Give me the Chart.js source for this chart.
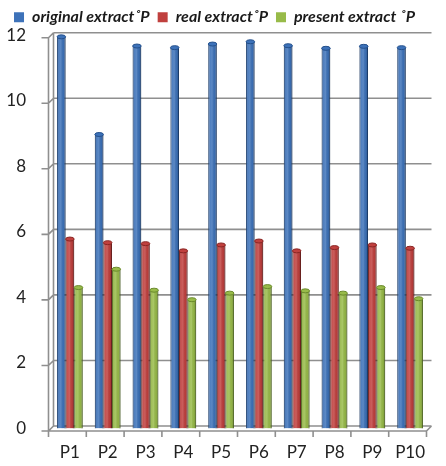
<!DOCTYPE html>
<html>
<head>
<meta charset="utf-8">
<script src="https://cdn.jsdelivr.net/npm/chart.js@4.4.1/dist/chart.umd.min.js"></script>
<style>
  html, body { margin: 0; padding: 0; background: #fff; }
  #wrap { width: 446px; height: 466px; position: relative; }
</style>
</head>
<body>
<div id="wrap"><canvas id="c" width="446" height="466"></canvas></div>
<script>
// Samples P1..P10 and their extract values (°P)
const categories = ['P1', 'P2', 'P3', 'P4', 'P5', 'P6', 'P7', 'P8', 'P9', 'P10'];
const originalExtract = [11.95, 8.97, 11.67, 11.62, 11.73, 11.8, 11.68, 11.6, 11.66, 11.62];
const realExtract = [5.78, 5.67, 5.64, 5.42, 5.6, 5.72, 5.42, 5.52, 5.6, 5.5];
const presentExtract = [4.3, 4.86, 4.22, 3.93, 4.13, 4.33, 4.2, 4.13, 4.3, 3.96];
const yTicks = [0, 2, 4, 6, 8, 10, 12];

const seriesNames = ['original extract˚P', 'real extract˚P', 'present extract ˚P'];
const fills = ['#3d72b9', '#c0403e', '#98bb49'];
const edges = ['#24508c', '#8a2624', '#6a8a2c'];

// Bars sit mid-depth; the front edge and back wall are offset by HALF either way
const HALF = 2.5;

// Back wall, floor and axis lines drawn around the plot in a light 3D look
const wallPlugin = {
  id: 'wall',
  beforeDatasetsDraw(chart) {
    const ctx = chart.ctx;
    const y = chart.scales.y, x = chart.scales.x;
    const a = chart.chartArea;
    const fl = a.left - HALF, bl = a.left + HALF;
    const fr = a.right - HALF, br = a.right + HALF;
    ctx.save();
    ctx.strokeStyle = '#8f8f8f';
    ctx.lineWidth = 1.6;
    ctx.beginPath();
    yTicks.forEach(v => {
      const py = y.getPixelForValue(v);
      // back gridline
      ctx.moveTo(bl, py - HALF);
      ctx.lineTo(br, py - HALF);
      // connector on the side wall
      ctx.moveTo(fl, py + HALF);
      ctx.lineTo(bl, py - HALF);
      // tick mark
      ctx.moveTo(fl - 7, py + HALF);
      ctx.lineTo(fl, py + HALF);
    });
    // side wall verticals
    ctx.moveTo(fl, a.top + HALF);
    ctx.lineTo(fl, a.bottom + HALF);
    ctx.moveTo(bl, a.top - HALF);
    ctx.lineTo(bl, a.bottom - HALF);
    // floor front edge and right edge
    ctx.moveTo(fl, a.bottom + HALF);
    ctx.lineTo(fr, a.bottom + HALF);
    ctx.lineTo(br, a.bottom - HALF);
    // category tick marks
    const step = x.width / categories.length;
    for (let i = 0; i <= categories.length; i++) {
      const px = a.left + i * step - HALF;
      ctx.moveTo(px, a.bottom + HALF);
      ctx.lineTo(px, a.bottom + HALF + 6);
    }
    ctx.stroke();
    ctx.restore();
  },
  afterDatasetsDraw(chart) {
    const ctx = chart.ctx;
    chart.data.datasets.forEach((ds, di) => {
      const meta = chart.getDatasetMeta(di);
      meta.data.forEach(bar => {
        const p = bar.getProps(['x', 'y', 'base', 'width'], true);
        const l = p.x - p.width / 2, r = p.x + p.width / 2;
        ctx.save();
        // cylinder shading across the bar
        const g = ctx.createLinearGradient(l, 0, r, 0);
        g.addColorStop(0, 'rgba(0,0,0,0.25)');
        g.addColorStop(0.25, 'rgba(255,255,255,0.10)');
        g.addColorStop(0.45, 'rgba(255,255,255,0.16)');
        g.addColorStop(0.75, 'rgba(0,0,0,0.04)');
        g.addColorStop(1, 'rgba(0,0,0,0.32)');
        ctx.fillStyle = g;
        ctx.fillRect(l, p.y, p.width, p.base - p.y);
        // rounded top cap
        ctx.beginPath();
        ctx.ellipse(p.x, p.y, p.width / 2, 2, 0, 0, Math.PI * 2);
        ctx.fillStyle = fills[di];
        ctx.fill();
        ctx.strokeStyle = edges[di];
        ctx.lineWidth = 1;
        ctx.stroke();
        ctx.restore();
      });
    });
  }
};

const datasets = [originalExtract, realExtract, presentExtract].map((vals, i) => ({
  label: seriesNames[i],
  data: vals,
  backgroundColor: fills[i],
  borderColor: edges[i],
  borderWidth: 1,
  categoryPercentage: 0.68,
  barPercentage: 1.0
}));

new Chart(document.getElementById('c'), {
  type: 'bar',
  data: { labels: categories, datasets },
  options: {
    responsive: false,
    animation: false,
    layout: { padding: { left: 0, right: 17, top: 0, bottom: 0 } },
    plugins: {
      legend: {
        position: 'top',
        labels: {
          boxWidth: 10,
          boxHeight: 10,
          padding: 8,
          color: '#1a1a1a',
          font: { family: 'Lato', size: 16, weight: 'bold', style: 'italic' },
          generateLabels(chart) {
            return chart.data.datasets.map((ds, i) => ({
              text: ds.label,
              fillStyle: fills[i],
              strokeStyle: fills[i],
              lineWidth: 0,
              datasetIndex: i,
              fontColor: '#1a1a1a'
            }));
          }
        }
      },
      tooltip: { enabled: false }
    },
    scales: {
      x: {
        grid: { display: false, drawTicks: false },
        border: { display: false },
        ticks: {
          padding: 14,
          color: '#222',
          font: { family: 'Lato', size: 17 }
        },
        afterFit(s) { s.height = 37.5; }
      },
      y: {
        min: 0,
        max: 12,
        afterBuildTicks(s) { s.ticks = yTicks.map(v => ({ value: v })); },
        grid: { display: false, drawTicks: false },
        border: { display: false },
        ticks: {
          padding: 25,
          color: '#222',
          font: { family: 'Lato', size: 17 }
        },
        afterFit(s) { s.width = 51; }
      }
    }
  },
  plugins: [wallPlugin]
});
</script>
</body>
</html>
